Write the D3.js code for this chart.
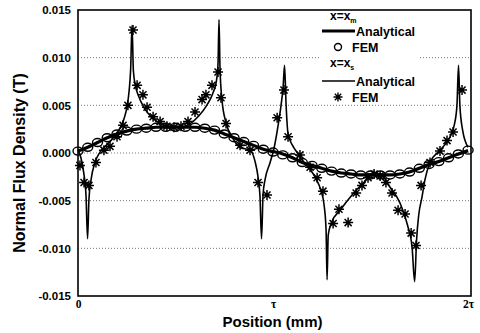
<!DOCTYPE html>
<html lang="en">
<head>
<meta charset="utf-8">
<title>Normal Flux Density</title>
<script src="https://cdn.jsdelivr.net/npm/d3@7"></script>
<style>
  body { margin: 0; background: #fff; }
  text { font-family: "Liberation Sans", Arial, sans-serif; font-weight: bold; fill: #000; }
</style>
</head>
<body>
<div id="chart"></div>
<script>
// x in units of tau, values in tesla
const yTicks = [-0.015, -0.010, -0.005, 0.000, 0.005, 0.010, 0.015];
const gridVals = [-0.010, -0.005, 0.000, 0.005, 0.010];
const xTickVals = [0, 1, 2];
const xTickLabels = ["0", "\u03c4", "2\u03c4"];

// x = x_m, analytical (thick)
const xmX = [0, 0.05, 0.1, 0.15, 0.2, 0.25, 0.3, 0.35, 0.4, 0.45, 0.5, 0.55, 0.6, 0.65, 0.7, 0.75, 0.8, 0.85, 0.9, 0.95,
             1.0, 1.05, 1.1, 1.15, 1.2, 1.25, 1.3, 1.35, 1.4, 1.45, 1.5, 1.55, 1.6, 1.65, 1.7, 1.75, 1.8, 1.85, 1.9, 1.95, 2.0];
const xmAnalytical = [0.0002, 0.0006, 0.0011, 0.0016, 0.0020, 0.0023, 0.0025, 0.0026, 0.0027, 0.0027, 0.0027, 0.0027, 0.0027, 0.0026, 0.0024, 0.0020, 0.0016, 0.0012, 0.0008, 0.0004,
                      0.00015, -0.0001, -0.0005, -0.0010, -0.0013, -0.0016, -0.0019, -0.0021, -0.0022, -0.0023, -0.0023, -0.0023, -0.0023, -0.0022, -0.0020, -0.0016, -0.0012, -0.0009, -0.0005, -0.0001, 0.00025];
// x = x_m, FEM (circles)
const xmFem = [0.0002, 0.0006, 0.0011, 0.0016, 0.0020, 0.0023, 0.0025, 0.0026, 0.0027, 0.0027, 0.0027, 0.0027, 0.0027, 0.0026, 0.0024, 0.0020, 0.0016, 0.0012, 0.0008, 0.0004,
               0.0001, -0.0002, -0.0005, -0.0010, -0.0013, -0.0016, -0.0019, -0.0021, -0.0022, -0.0023, -0.0023, -0.0023, -0.0023, -0.0022, -0.0020, -0.0016, -0.0012, -0.0009, -0.0005, -0.0001, 0.0003];

// x = x_s, analytical (thin, spiky)
const xsX = [0, 0.015, 0.031, 0.041, 0.049, 0.056, 0.067, 0.087, 0.113, 0.154, 0.19, 0.215, 0.236, 0.251, 0.262, 0.270, 0.277,
             0.284, 0.295, 0.310, 0.34, 0.38, 0.43, 0.48, 0.52, 0.57, 0.62, 0.66, 0.69, 0.71, 0.718, 0.723,
             0.728, 0.738, 0.76, 0.79, 0.83, 0.882, 0.908, 0.923, 0.933, 0.941,
             0.949, 0.959, 0.985, 1.005, 1.026, 1.041, 1.052, 1.059,
             1.067, 1.077, 1.10, 1.125, 1.16, 1.19, 1.22, 1.245, 1.262, 1.272, 1.277,
             1.283, 1.30, 1.344, 1.405, 1.47, 1.515, 1.55, 1.60, 1.65, 1.69, 1.713, 1.726,
             1.736, 1.747, 1.764, 1.779, 1.805, 1.856, 1.905, 1.93, 1.943, 1.951,
             1.958, 1.972, 2.0];
const xsAnalytical = [0.0003, -0.0005, -0.0023, -0.0044, -0.0090, -0.0049, -0.0028, -0.0010, 0.0001, 0.0010, 0.0018, 0.0026, 0.0036, 0.0048, 0.0065, 0.0088, 0.0134,
                      0.0086, 0.0070, 0.0060, 0.0047, 0.0037, 0.0030, 0.0027, 0.0027, 0.0030, 0.0039, 0.0050, 0.0062, 0.0076, 0.0094, 0.0140,
                      0.0090, 0.0056, 0.0031, 0.0017, 0.0006, 0.0003, -0.0009, -0.0025, -0.0045, -0.0090,
                      -0.0043, -0.0028, -0.0010, 0.0005, 0.0029, 0.0050, 0.0070, 0.0092,
                      0.0050, 0.0020, 0.0008, 0.0000, -0.0010, -0.0017, -0.0027, -0.0039, -0.0055, -0.0081, -0.0133,
                      -0.0086, -0.0073, -0.0060, -0.0044, -0.0030, -0.0021, -0.0022, -0.0036, -0.0052, -0.0076, -0.0099, -0.0135,
                      -0.0091, -0.0065, -0.0046, -0.0028, -0.0010, 0.0003, 0.0016, 0.0030, 0.0050, 0.0092,
                      0.0050, 0.0024, 0.0006];

// x = x_s, FEM (asterisks)
const xsFemX = [0.010, 0.031, 0.056, 0.092, 0.133, 0.164, 0.200, 0.231, 0.256, 0.282, 0.303, 0.333, 0.354, 0.385, 0.421, 0.456, 0.492,
                0.528, 0.564, 0.600, 0.636, 0.656, 0.687, 0.718, 0.733, 0.759, 0.831, 0.882, 0.923, 0.969, 1.021, 1.056, 1.077,
                1.138, 1.190, 1.226, 1.256, 1.308, 1.338, 1.385, 1.426, 1.456, 1.487, 1.518, 1.549, 1.579, 1.610, 1.641, 1.677,
                1.708, 1.733, 1.759, 1.805, 1.856, 1.892, 1.923, 1.969];
const xsFem = [-0.0013, -0.0031, -0.0034, -0.0010, 0.0003, 0.0007, 0.0017, 0.0029, 0.0050, 0.0129, 0.0071, 0.0061, 0.0048, 0.0038, 0.0033, 0.0028, 0.0027,
               0.0028, 0.0033, 0.0043, 0.0056, 0.0061, 0.0071, 0.0085, 0.0058, 0.0031, 0.0008, 0.0003, -0.0031, -0.0044, 0.0037, 0.0066, 0.0017,
               -0.0002, -0.0015, -0.0026, -0.0040, -0.0074, -0.0059, -0.0073, -0.0042, -0.0034, -0.0026, -0.0022, -0.0024, -0.0031, -0.0042, -0.0060, -0.0064,
               -0.0084, -0.0097, -0.0034, -0.0010, 0.0002, 0.0013, 0.0022, 0.0066];

const width = 480, height = 333;
const plotL = 78, plotR = 471, plotT = 10, plotB = 296;

const x = d3.scaleLinear().domain([0, 2.015]).range([plotL, plotR]);
const y = d3.scaleLinear().domain([-0.015, 0.015]).range([plotB, plotT]);

const svg = d3.select("#chart").append("svg")
  .attr("width", width).attr("height", height);

// dotted grid
svg.append("g").selectAll("line").data(gridVals).enter().append("line")
  .attr("x1", plotL).attr("x2", plotR)
  .attr("y1", d => y(d)).attr("y2", d => y(d))
  .attr("stroke", "#777").attr("stroke-width", 1).attr("stroke-dasharray", "1,2");

// axes
const yAxis = svg.append("g").attr("transform", `translate(${plotL},0)`)
  .call(d3.axisLeft(y).tickValues(yTicks).tickFormat(d => d.toFixed(3)).tickSize(0).tickPadding(7));
yAxis.select(".domain").remove();
yAxis.selectAll("text").style("font-size", "11.5px").style("font-family", "Liberation Sans, Arial, sans-serif").style("font-weight", "bold");

const xAxis = svg.append("g").attr("transform", `translate(0,${plotB})`)
  .call(d3.axisBottom(x).tickValues(xTickVals).tickFormat((d, i) => xTickLabels[i]).tickSize(0).tickPadding(4));
xAxis.select(".domain").remove();
xAxis.selectAll("text").style("font-size", "11.5px").style("font-family", "Liberation Serif, serif").style("font-weight", "bold");

// x = x_m
const xmLine = d3.line().x((d, i) => x(xmX[i])).y(d => y(d)).curve(d3.curveMonotoneX);
svg.append("path").datum(xmAnalytical).attr("d", xmLine)
  .attr("fill", "none").attr("stroke", "#000").attr("stroke-width", 3.2);

svg.append("g").selectAll("ellipse").data(xmFem).enter().append("ellipse")
  .attr("cx", (d, i) => x(xmX[i])).attr("cy", d => y(d))
  .attr("rx", 5).attr("ry", 4)
  .attr("fill", "none").attr("stroke", "#000").attr("stroke-width", 1.4);

// x = x_s
const xsLine = d3.line().x((d, i) => x(xsX[i])).y(d => y(d)).curve(d3.curveMonotoneX);
svg.append("path").datum(xsAnalytical).attr("d", xsLine)
  .attr("fill", "none").attr("stroke", "#000").attr("stroke-width", 1.6);

function star(r) {
  const a = r * Math.SQRT1_2;
  return `M${-r},0L${r},0M0,${-r}L0,${r}M${-a},${-a}L${a},${a}M${-a},${a}L${a},${-a}`;
}
svg.append("g").selectAll("path").data(xsFem).enter().append("path")
  .attr("transform", (d, i) => `translate(${x(xsFemX[i])},${y(d)})`)
  .attr("d", star(5)).attr("stroke", "#000").attr("stroke-width", 1.5).attr("fill", "none");

// frame
svg.append("rect").attr("x", plotL).attr("y", plotT)
  .attr("width", plotR - plotL).attr("height", plotB - plotT)
  .attr("fill", "none").attr("stroke", "#000").attr("stroke-width", 1.6);

// legend
const lg = svg.append("g");
lg.append("rect").attr("x", 320).attr("y", 12).attr("width", 100).attr("height", 92).attr("fill", "#fff");
const t1 = lg.append("text").attr("x", 330).attr("y", 20).style("font-size", "12px");
t1.append("tspan").text("x=x");
t1.append("tspan").attr("dy", 3).style("font-size", "7px").text("m");
lg.append("line").attr("x1", 322).attr("x2", 355).attr("y1", 31).attr("y2", 31).attr("stroke", "#000").attr("stroke-width", 3.2);
lg.append("text").attr("x", 356).attr("y", 35.5).style("font-size", "12.5px").text("Analytical");
lg.append("ellipse").attr("cx", 338).attr("cy", 47).attr("rx", 3.5).attr("ry", 3.5).attr("fill", "none").attr("stroke", "#000").attr("stroke-width", 1.4);
lg.append("text").attr("x", 352).attr("y", 51.5).style("font-size", "12.5px").text("FEM");
const t2 = lg.append("text").attr("x", 330).attr("y", 67).style("font-size", "12px");
t2.append("tspan").text("x=x");
t2.append("tspan").attr("dy", 3).style("font-size", "7px").text("s");
lg.append("line").attr("x1", 322).attr("x2", 355).attr("y1", 81).attr("y2", 81).attr("stroke", "#000").attr("stroke-width", 1.6);
lg.append("text").attr("x", 356).attr("y", 85.5).style("font-size", "12.5px").text("Analytical");
lg.append("path").attr("transform", "translate(338,97)").attr("d", star(4.5)).attr("stroke", "#000").attr("stroke-width", 1.4);
lg.append("text").attr("x", 352).attr("y", 101.5).style("font-size", "12.5px").text("FEM");

// axis titles
svg.append("text").attr("x", (plotL + plotR) / 2 - 2).attr("y", 327)
  .attr("text-anchor", "middle").style("font-size", "15px").text("Position (mm)");
svg.append("text").attr("transform", "translate(25,163) rotate(-90)")
  .attr("text-anchor", "middle").style("font-size", "16px").text("Normal Flux Density (T)");
</script>
</body>
</html>
